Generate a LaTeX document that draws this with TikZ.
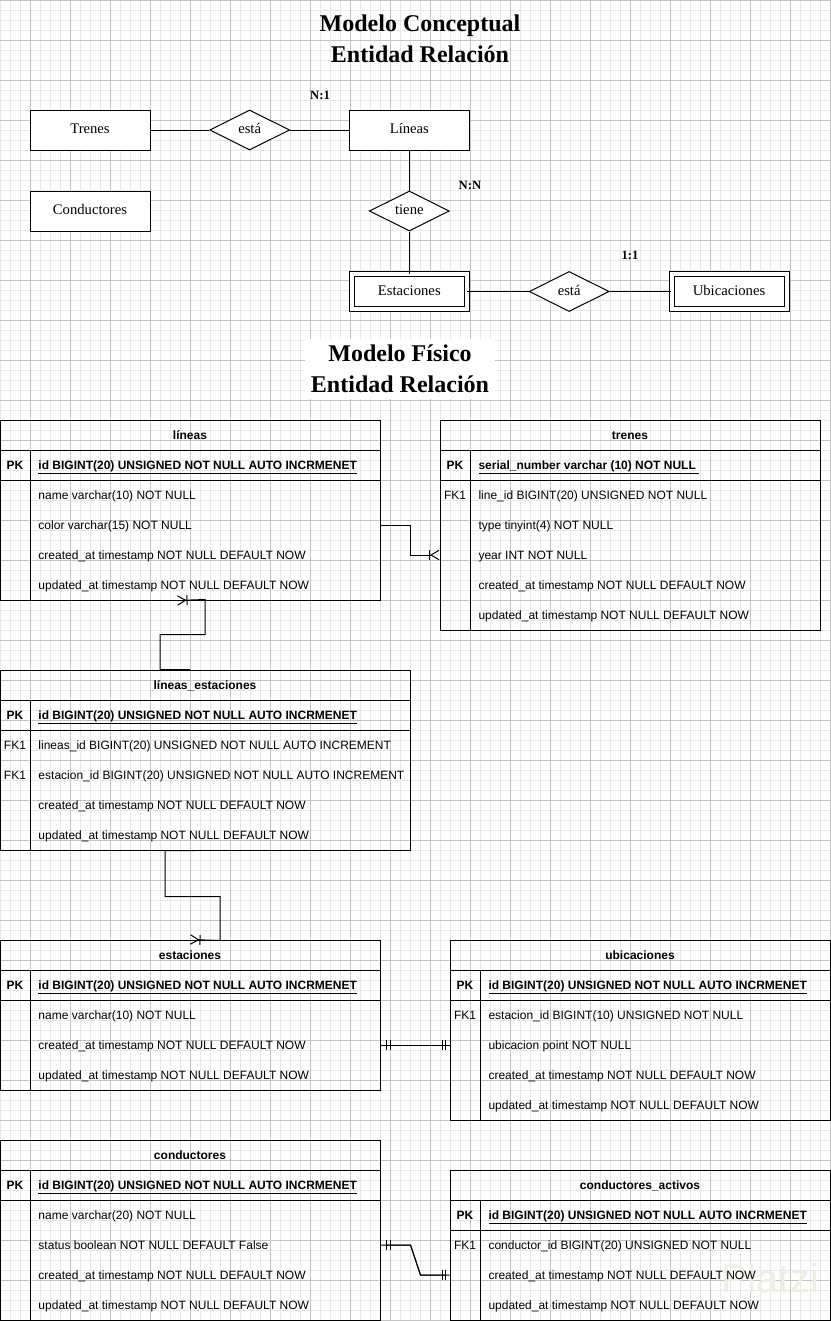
\documentclass[tikz,border=0pt]{standalone}
\usepackage{fontspec}
\setmainfont{Liberation Serif}
\setsansfont{Liberation Sans}
\usepackage{tikz}
\usetikzlibrary{arrows.meta,positioning,fit,calc,shapes.geometric}
\definecolor{gridminor}{HTML}{E8E8E8}
\definecolor{gridmajor}{HTML}{C4C4C4}
\definecolor{watermark}{HTML}{ECEFE4}

\begin{document}
\begin{tikzpicture}[
    x=0.75pt, y=-0.75pt, line width=0.75pt,
    minorgrid/.style={draw=gridminor},
    majorgrid/.style={draw=gridmajor},
    title/.style={font=\bfseries\fontsize{18}{23.25}\selectfont, align=center},
    ent/.style={draw, fill=white, minimum width=90pt, minimum height=30pt,
                text height=7.5pt, text depth=2pt, font=\fontsize{11}{12}\selectfont},
    weakent/.style={ent, double, double distance=3pt, minimum width=86.25pt,
                minimum height=26.25pt},
    rel/.style={draw, fill=white, diamond, aspect=2, minimum width=60pt,
                minimum height=30pt, inner sep=1pt, text height=7.5pt, text depth=2pt,
                font=\fontsize{11}{12}\selectfont},
    card/.style={font=\bfseries\fontsize{9.5}{11}\selectfont},
    tbl/.style={draw, inner sep=0pt},
    cell/.style={text height=8.4pt, text depth=2pt},
    hdr/.style={cell, font=\sffamily\bfseries\fontsize{9}{11}\selectfont},
    pk/.style={cell, font=\sffamily\bfseries\fontsize{9}{11}\selectfont},
    fk/.style={cell, font=\sffamily\fontsize{9}{11}\selectfont},
    key/.style={cell, font=\sffamily\bfseries\fontsize{9}{11}\selectfont, anchor=west, inner sep=0pt},
    fld/.style={cell, font=\sffamily\fontsize{9}{11}\selectfont, anchor=west, inner sep=0pt},
    onemany/.style={-{Bar[width=7.5pt,sep=0pt]Straight Barb[reversed,length=6pt,width=7pt]}},
    oneone/.style={postaction={draw, shorten <=2.5pt, shorten >=2.5pt,
        {Bar[width=7.5pt,sep=1.75pt]Bar[width=7.5pt,sep=1.75pt]}-{Bar[width=7.5pt,sep=1.75pt]Bar[width=7.5pt]}}}
]
\useasboundingbox (0,0) rectangle (831,1321);
\fill[white] (0,0) rectangle (831,1321);
\foreach \gx in {0,10,...,830} \draw[minorgrid] (\gx,0) -- (\gx,1321);
\foreach \gy in {0,10,...,1320} \draw[minorgrid] (0,\gy) -- (831,\gy);
\foreach \gx in {30,70,...,830} \draw[majorgrid] (\gx,0) -- (\gx,1321);
\foreach \gy in {0,40,...,1320} \draw[majorgrid] (0,\gy) -- (831,\gy);
\node[text=watermark, font=\sffamily\fontsize{30}{32}\selectfont] (wm) at (770,1278) {Platzi};

\node[title] (tconc) at (420,38.5) {Modelo Conceptual\\Entidad Relación};
\node[ent] (trenes) at (90,130) {Trenes};
\node[rel, right=44pt of trenes] (esta1) {está};
\node[ent, right=44pt of esta1] (lineas) {Líneas};
\node[ent, below=30pt of trenes] (conductores) {Conductores};
\node[rel, below=30pt of lineas] (tiene) {tiene};
\node[weakent, below=31.5pt of tiene] (estaciones) {Estaciones};
\node[rel, right=46pt of estaciones] (esta2) {está};
\node[weakent, right=46pt of esta2] (ubicaciones) {Ubicaciones};
\node[card] (c1) at (320,95) {N:1};
\node[card] (c2) at (470,185) {N:N};
\node[card] (c3) at (630,255) {1:1};
\draw (trenes) -- (esta1) -- (lineas);
\draw (lineas) -- (tiene) -- (estaciones);
\draw (estaciones) -- (esta2) -- (ubicaciones);

\node[title, fill=white, minimum width=142.5pt, minimum height=45pt] (tfis) at (400,369) {Modelo Físico\\Entidad Relación};

\node[tbl, fit={(0,420)(380,600)}] (tlin) {};
\node[hdr] at (190,435) {líneas};
\draw (0,450) -- (380,450) (0,480) -- (380,480) (30,450) -- (30,600);
\node[pk] at (15,465) {PK};
\node[key] (tlin-0) at (38,465) {\underline{id BIGINT(20) UNSIGNED NOT NULL AUTO INCRMENET}};
\foreach \f [count=\i] in {name varchar(10) NOT NULL, color varchar(15) NOT NULL,
    created\_at timestamp NOT NULL DEFAULT NOW, updated\_at timestamp NOT NULL DEFAULT NOW}
  \node[fld] (tlin-\i) at (38,465+30*\i) {\f};

\node[tbl, fit={(440,420)(820,630)}] (ttre) {};
\node[hdr] at (630,435) {trenes};
\draw (440,450) -- (820,450) (440,480) -- (820,480) (470,450) -- (470,630);
\node[pk] at (455,465) {PK};
\node[key] (ttre-0) at (478,465) {\underline{serial\_number varchar (10) NOT NULL\ }};
\node[fk] at (455,495) {FK1};
\foreach \f [count=\i] in {line\_id BIGINT(20) UNSIGNED NOT NULL, type tinyint(4) NOT NULL,
    year INT NOT NULL, created\_at timestamp NOT NULL DEFAULT NOW,
    updated\_at timestamp NOT NULL DEFAULT NOW}
  \node[fld] (ttre-\i) at (478,465+30*\i) {\f};

\node[tbl, fit={(0,670)(410,850)}] (tles) {};
\node[hdr] at (205,685) {líneas\_estaciones};
\draw (0,700) -- (410,700) (0,730) -- (410,730) (30,700) -- (30,850);
\node[pk] at (15,715) {PK};
\node[key] (tles-0) at (38,715) {\underline{id BIGINT(20) UNSIGNED NOT NULL AUTO INCRMENET}};
\node[fk] at (15,745) {FK1};
\node[fk] at (15,775) {FK1};
\foreach \f [count=\i] in {lineas\_id BIGINT(20) UNSIGNED NOT NULL AUTO INCREMENT,
    estacion\_id BIGINT(20) UNSIGNED NOT NULL AUTO INCREMENT,
    created\_at timestamp NOT NULL DEFAULT NOW, updated\_at timestamp NOT NULL DEFAULT NOW}
  \node[fld] (tles-\i) at (38,715+30*\i) {\f};

\node[tbl, fit={(0,940)(380,1090)}] (test) {};
\node[hdr] at (190,955) {estaciones};
\draw (0,970) -- (380,970) (0,1000) -- (380,1000) (30,970) -- (30,1090);
\node[pk] at (15,985) {PK};
\node[key] (test-0) at (38,985) {\underline{id BIGINT(20) UNSIGNED NOT NULL AUTO INCRMENET}};
\foreach \f [count=\i] in {name varchar(10) NOT NULL,
    created\_at timestamp NOT NULL DEFAULT NOW, updated\_at timestamp NOT NULL DEFAULT NOW}
  \node[fld] (test-\i) at (38,985+30*\i) {\f};

\node[tbl, fit={(450,940)(830,1120)}] (tubi) {};
\node[hdr] at (640,955) {ubicaciones};
\draw (450,970) -- (830,970) (450,1000) -- (830,1000) (480,970) -- (480,1120);
\node[pk] at (465,985) {PK};
\node[key] (tubi-0) at (488,985) {\underline{id BIGINT(20) UNSIGNED NOT NULL AUTO INCRMENET}};
\node[fk] at (465,1015) {FK1};
\foreach \f [count=\i] in {estacion\_id BIGINT(10) UNSIGNED NOT NULL, ubicacion point NOT NULL,
    created\_at timestamp NOT NULL DEFAULT NOW, updated\_at timestamp NOT NULL DEFAULT NOW}
  \node[fld] (tubi-\i) at (488,985+30*\i) {\f};

\node[tbl, fit={(0,1140)(380,1320)}] (tcon) {};
\node[hdr] at (190,1155) {conductores};
\draw (0,1170) -- (380,1170) (0,1200) -- (380,1200) (30,1170) -- (30,1320);
\node[pk] at (15,1185) {PK};
\node[key] (tcon-0) at (38,1185) {\underline{id BIGINT(20) UNSIGNED NOT NULL AUTO INCRMENET}};
\foreach \f [count=\i] in {name varchar(20) NOT NULL, status boolean NOT NULL DEFAULT False,
    created\_at timestamp NOT NULL DEFAULT NOW, updated\_at timestamp NOT NULL DEFAULT NOW}
  \node[fld] (tcon-\i) at (38,1185+30*\i) {\f};

\node[tbl, fit={(450,1170)(830,1320)}] (tact) {};
\node[hdr] at (640,1185) {conductores\_activos};
\draw (450,1200) -- (830,1200) (450,1230) -- (830,1230) (480,1200) -- (480,1320);
\node[pk] at (465,1215) {PK};
\node[key] (tact-0) at (488,1215) {\underline{id BIGINT(20) UNSIGNED NOT NULL AUTO INCRMENET}};
\node[fk] at (465,1245) {FK1};
\foreach \f [count=\i] in {conductor\_id BIGINT(20) UNSIGNED NOT NULL,
    created\_at timestamp NOT NULL DEFAULT NOW, updated\_at timestamp NOT NULL DEFAULT NOW}
  \node[fld] (tact-\i) at (488,1215+30*\i) {\f};

\draw[onemany] (tlin.east |- tlin-2.west) -- ++(30,0) |- (ttre.west |- ttre-3.west);
\draw[onemany] ($(tles.north)+(-15,0)$) -- ++(-30,0) -- ++(0,-35) -- ++(45,0) -- ++(0,-35)
  -- ($(tlin.south)+(-13,0)$);
\draw[onemany] ($(tles.south)+(-10,0)$) -- ++(-30,0) -- ++(0,46) -- ++(55,0) -- ++(0,44)
  -- (test.north);
\draw[oneone] (test.east |- test-2.west) -- (tubi.west |- tubi-2.west);
\draw[oneone] (tcon.east |- tcon-2.west) -- ++(30,0) -- ++(10,30) -- (tact.west |- tact-2.west);
\end{tikzpicture}
\end{document}
